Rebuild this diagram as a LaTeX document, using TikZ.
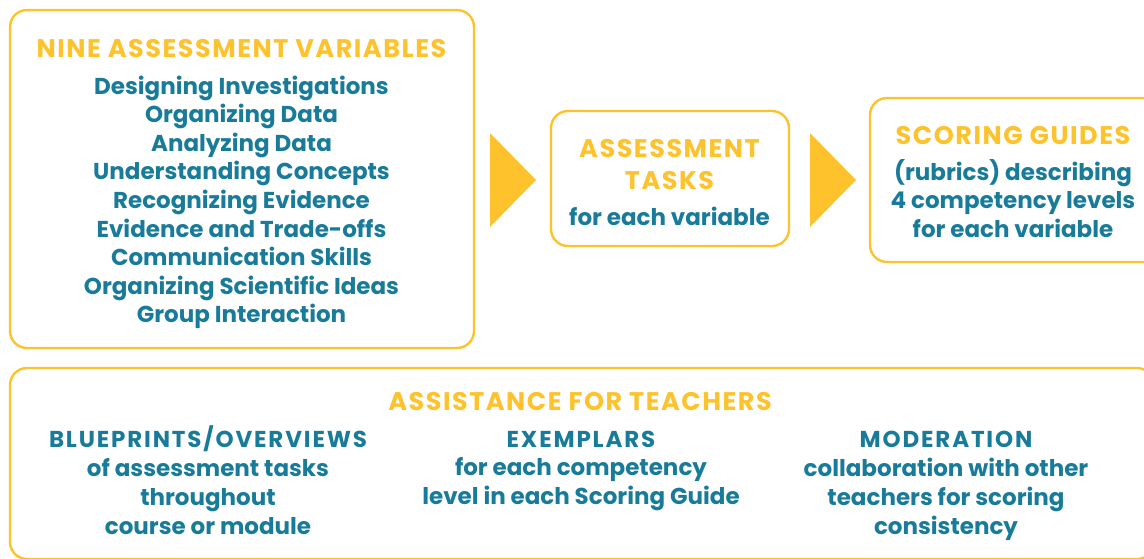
\documentclass[tikz,border=0pt]{standalone}
\usepackage{fontspec}
\setmainfont{Poppins}
% wider tracking for the capital-letter lines
\newfontfamily\headfont{Poppins}[LetterSpace=6]
\newfontfamily\capsfont{Poppins}[LetterSpace=8]
\definecolor{ayellow}{HTML}{FEC32C}
\definecolor{ablue}{HTML}{187B9A}
\begin{document}
\begin{tikzpicture}[x=1pt,y=-1pt,
  panel/.style={draw=ayellow, line width=2.4pt, rounded corners=17pt,
    anchor=north west, inner sep=0pt, outer sep=0pt},
  title/.style={font=\headfont\bfseries\fontsize{25.5}{30}\selectfont, text=ayellow,
    anchor=base, inner sep=0pt},
  body/.style={font=\bfseries\fontsize{23}{28}\selectfont, text=ablue,
    anchor=base, inner sep=0pt},
  bodycaps/.style={body, font=\capsfont\bfseries\fontsize{23}{28}\selectfont},
  pointer/.style={fill=ayellow}]
\useasboundingbox (0,0) rectangle (1144,558);
\clip (0,0) rectangle (1144,558);

% panels
\node[panel, minimum width=464pt, minimum height=338pt] (varsbox) at (10,10) {};
\node[panel, minimum width=238pt, minimum height=135pt] (taskbox) at (551,111) {};
\node[panel, minimum width=300pt, minimum height=164pt] (guidebox) at (870,98) {};
\node[panel, minimum width=1144pt, minimum height=191pt] (helpbox) at (10,368) {};

% flow pointers
\fill[pointer] (490,133) -- (490,227) -- (536,180) -- cycle;
\fill[pointer] (810,133) -- (810,227) -- (856,180) -- cycle;

% assessment variables
\node[title] (varshead) at (241.5,57) {NINE ASSESSMENT VARIABLES};
\foreach \t [count=\i] in {Designing Investigations, Organizing Data,
    Analyzing Data, Understanding Concepts, Recognizing Evidence,
    Evidence and Trade-offs, Communication Skills,
    Organizing Scientific Ideas, Group Interaction}
  \node[body] (var\i) at (241.5,{94+28.6*(\i-1)}) {\t};

% assessment tasks
\node[title] (taskhead1) at (669.5,157) {ASSESSMENT};
\node[title] (taskhead2) at (669.5,189) {TASKS};
\node[body] (tasktext) at (669.5,225) {for each variable};

% scoring guides
\node[title] (guidehead) at (1013,144) {SCORING GUIDES};
\node[body] (guide1) at (1013,180.5) {(rubrics) describing};
\node[body] (guide2) at (1013,208.5) {4 competency levels};
\node[body] (guide3) at (1013,237) {for each variable};

% assistance for teachers
\node[title] (helphead) at (580,410) {ASSISTANCE FOR TEACHERS};

\node[bodycaps] (blue1) at (208,447) {BLUEPRINTS/OVERVIEWS};
\node[body] (blue2) at (208,476.5) {of assessment tasks};
\node[body] (blue3) at (208,505.5) {throughout};
\node[body] (blue4) at (208,534) {course or module};

\node[bodycaps] (exem1) at (581,447) {EXEMPLARS};
\node[body] (exem2) at (581,475.5) {for each competency};
\node[body] (exem3) at (581,504) {level in each Scoring Guide};

\node[bodycaps] (mode1) at (946,447) {MODERATION};
\node[body] (mode2) at (946,476.5) {collaboration with other};
\node[body] (mode3) at (946,505.5) {teachers for scoring};
\node[body] (mode4) at (946,534) {consistency};
\end{tikzpicture}
\end{document}
